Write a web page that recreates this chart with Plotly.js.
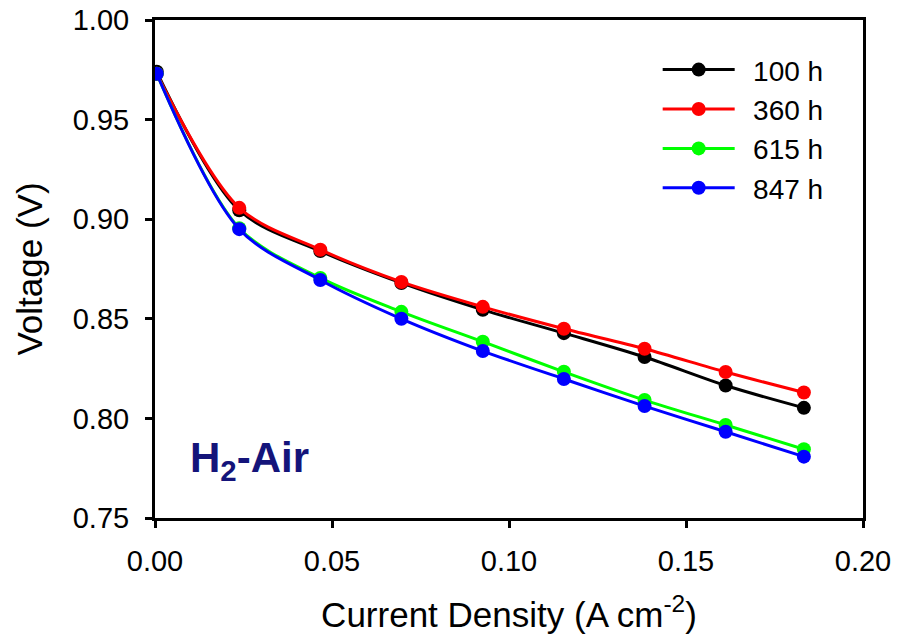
<!DOCTYPE html>
<html>
<head>
<meta charset="utf-8">
<script src="https://cdn.plot.ly/plotly-3.0.1.min.js"></script>
<style>html,body{margin:0;padding:0;background:#fff;}#chart{width:910px;height:637px;}</style>
</head>
<body>
<div id="chart"></div>
<script>
const currentDensity = [0.0005, 0.0238, 0.0467, 0.0696, 0.0926, 0.1155, 0.1383, 0.1612, 0.1833];
const seriesNames = ["100 h", "360 h", "615 h", "847 h"];
const v100 = [0.974, 0.9045, 0.884, 0.868, 0.8545, 0.8428, 0.8308, 0.8165, 0.8053];
const v360 = [0.973, 0.9057, 0.8847, 0.8685, 0.856, 0.845, 0.835, 0.8233, 0.8130];
const v615 = [0.973, 0.8955, 0.8705, 0.8535, 0.8385, 0.8234, 0.8092, 0.7967, 0.7845];
const v847 = [0.973, 0.8950, 0.8695, 0.8500, 0.8338, 0.8198, 0.8062, 0.7933, 0.7808];
const seriesColors = ["#000000", "#ff0000", "#00ff00", "#0000ff"];
const xTicks = [0, 0.05, 0.10, 0.15, 0.20];
const xTickText = ["0.00", "0.05", "0.10", "0.15", "0.20"];
const yTicks = [0.75, 0.80, 0.85, 0.90, 0.95, 1.00];
const yTickText = ["0.75", "0.80", "0.85", "0.90", "0.95", "1.00"];

const allV = [v100, v360, v615, v847];
const traces = allV.map((v, i) => ({
  x: currentDensity,
  y: v,
  name: "\u00a0\u2009" + seriesNames[i],
  type: "scatter",
  mode: "lines+markers",
  line: {color: seriesColors[i], width: 3, shape: "spline", smoothing: 0.9},
  marker: {color: seriesColors[i], size: 14}
}));

const font = "Liberation Sans, Arial, sans-serif";
const layout = {
  width: 910, height: 637,
  margin: {l: 155, r: 47, t: 20, b: 119},
  paper_bgcolor: "#fff", plot_bgcolor: "#fff",
  font: {family: font, size: 29, color: "#000"},
  showlegend: true,
  legend: {x: 0.71, y: 0.95, xanchor: "left", yanchor: "top", bgcolor: "rgba(0,0,0,0)",
           font: {family: font, size: 28, color: "#000"}, itemwidth: 72, tracegroupgap: 0},
  xaxis: {
    range: [0, 0.20], tickvals: xTicks, ticktext: xTickText,
    showline: true, linecolor: "#000", linewidth: 3, mirror: true,
    ticks: "outside", ticklen: 7, tickwidth: 3, tickcolor: "#000",
    showgrid: false, zeroline: false, ticklabelstandoff: 8,
    tickfont: {family: font, size: 29},
    title: {text: "Current Density (A cm<sup>-2</sup>)", font: {family: font, size: 35}, standoff: 27}
  },
  yaxis: {
    range: [0.75, 1.00], tickvals: yTicks, ticktext: yTickText,
    showline: true, linecolor: "#000", linewidth: 3, mirror: true,
    ticks: "outside", ticklen: 7, tickwidth: 3, tickcolor: "#000",
    showgrid: false, zeroline: false, ticklabelstandoff: 10,
    tickfont: {family: font, size: 29},
    title: {text: "Voltage (V)", font: {family: font, size: 35}, standoff: 20}
  },
  annotations: [{
    xref: "paper", yref: "paper", x: 0.046, y: 0.115, xanchor: "left", yanchor: "middle",
    text: "<b>H<sub>2</sub>-Air</b>", showarrow: false,
    font: {family: font, size: 42, color: "#14147a"}
  }]
};

Plotly.newPlot("chart", traces, layout, {displayModeBar: false, staticPlot: true});
</script>
</body>
</html>
